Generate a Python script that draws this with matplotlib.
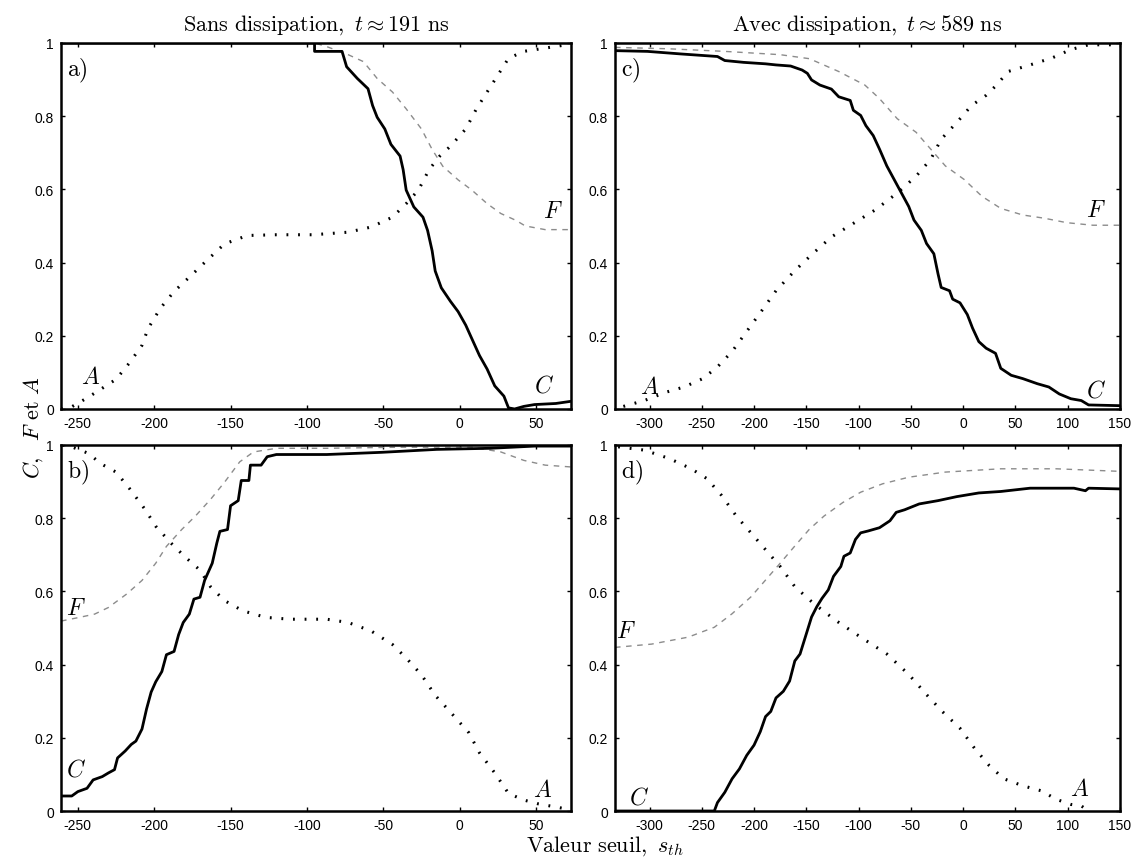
import matplotlib
matplotlib.use("Agg")
import matplotlib.pyplot as plt

plt.rcParams["mathtext.fontset"] = "cm"
plt.rcParams["font.family"] = "Liberation Sans"

# ---- panel a) sans dissipation, positif
a_c_x = [-261, -95, -95, -77, -74, -67, -60, -57, -54, -49, -45, -39, -37, -35, -30, -24, -21,
         -18, -16, -12, -6, -1, 4, 8, 13, 18, 23, 29, 32, 36, 42, 49, 63, 73]
a_c_y = [1.0, 1.0, 0.977, 0.977, 0.935, 0.903, 0.875, 0.829, 0.797, 0.765, 0.723, 0.691, 0.654,
         0.598, 0.552, 0.524, 0.488, 0.432, 0.377, 0.331, 0.294, 0.266, 0.229, 0.192, 0.146,
         0.109, 0.063, 0.035, 0.003, 0.0, 0.007, 0.012, 0.015, 0.021]
a_f_x = [-261, -95, -87, -73, -63, -54, -44, -35, -25, -18, -11, -1, 8, 18, 27, 37, 43, 56, 66, 73]
a_f_y = [1.0, 1.0, 0.99, 0.968, 0.949, 0.903, 0.866, 0.82, 0.765, 0.709, 0.663, 0.626, 0.598,
         0.561, 0.534, 0.515, 0.5, 0.49, 0.49, 0.49]
a_a_x = [-261, -254, -244, -235, -225, -216, -208, -204, -196, -187, -175, -166, -154, -139,
         -120, -96, -73, -58, -44, -35, -27, -20, -13, -6, 4, 11, 18, 25, 32, 42, 56, 73]
a_a_y = [0.0, 0.006, 0.03, 0.054, 0.081, 0.127, 0.174, 0.22, 0.275, 0.321, 0.368, 0.404, 0.451,
         0.474, 0.476, 0.476, 0.483, 0.497, 0.524, 0.561, 0.598, 0.654, 0.691, 0.718, 0.765,
         0.82, 0.866, 0.912, 0.958, 0.977, 0.986, 0.997]

# ---- panel b) sans dissipation, negatif
b_c_x = [-261, -254, -250, -244, -240, -234, -230, -226, -224, -219, -215, -212, -208, -205,
         -202, -199, -195, -192, -187, -184, -181, -177, -174, -170, -167, -162, -159, -157,
         -152, -150, -145, -143, -138, -137, -130, -126, -120, -87, -51, -15, 20, 49, 73]
b_c_y = [0.041, 0.041, 0.053, 0.062, 0.085, 0.094, 0.104, 0.113, 0.145, 0.164, 0.182, 0.191,
         0.224, 0.279, 0.325, 0.353, 0.381, 0.427, 0.436, 0.482, 0.515, 0.538, 0.579, 0.584,
         0.63, 0.677, 0.732, 0.764, 0.769, 0.834, 0.848, 0.903, 0.903, 0.945, 0.945, 0.968,
         0.974, 0.974, 0.98, 0.988, 0.991, 0.997, 0.997]
b_f_x = [-261, -249, -239, -230, -218, -208, -199, -192, -182, -173, -163, -154, -144, -135,
         -120, -87, -39, 8, 27, 42, 56, 73]
b_f_y = [0.519, 0.529, 0.538, 0.556, 0.593, 0.63, 0.677, 0.723, 0.769, 0.806, 0.852, 0.898,
         0.954, 0.981, 0.991, 0.991, 0.994, 0.994, 0.981, 0.958, 0.945, 0.94]
b_a_x = [-260, -254, -243, -235, -225, -216, -206, -199, -189, -180, -170, -163, -154, -142,
         -127, -111, -87, -73, -58, -44, -35, -25, -16, -6, 6, 13, 23, 32, 42, 51, 63, 73]
b_a_y = [1.0, 0.995, 0.977, 0.949, 0.926, 0.88, 0.824, 0.778, 0.732, 0.695, 0.658, 0.612,
         0.575, 0.547, 0.529, 0.524, 0.524, 0.515, 0.492, 0.455, 0.418, 0.372, 0.316, 0.27,
         0.214, 0.159, 0.104, 0.048, 0.03, 0.02, 0.011, 0.003]

# ---- panel c) avec dissipation, positif
c_c_x = [-333, -302, -270, -235, -228, -210, -189, -179, -165, -154, -149, -145, -137, -126,
         -119, -108, -105, -98, -93, -86, -80, -73, -66, -59, -52, -47, -40, -35, -28, -24,
         -21, -13, -10, -3, 4, 9, 15, 22, 31, 36, 46, 57, 71, 82, 92, 103, 113, 120, 150]
c_c_y = [0.979, 0.977, 0.97, 0.963, 0.952, 0.947, 0.943, 0.94, 0.937, 0.926, 0.917, 0.899,
         0.885, 0.874, 0.853, 0.843, 0.816, 0.802, 0.774, 0.747, 0.71, 0.664, 0.627, 0.59,
         0.553, 0.516, 0.488, 0.452, 0.424, 0.369, 0.332, 0.323, 0.3, 0.29, 0.258, 0.221,
         0.184, 0.166, 0.152, 0.111, 0.092, 0.083, 0.069, 0.06, 0.041, 0.028, 0.023, 0.011,
         0.009]
c_f_x = [-333, -281, -228, -175, -147, -119, -94, -80, -63, -45, -31, -17, 1, 18, 36, 57, 78,
         99, 124, 150]
c_f_y = [0.988, 0.984, 0.977, 0.968, 0.957, 0.922, 0.885, 0.848, 0.793, 0.756, 0.71, 0.664,
         0.627, 0.581, 0.548, 0.53, 0.521, 0.509, 0.502, 0.502]
c_a_x = [-325, -305, -284, -267, -249, -235, -221, -207, -193, -179, -161, -144, -126, -105,
         -84, -63, -45, -31, -21, -6, 8, 22, 32, 43, 64, 85, 103, 120, 150]
c_a_y = [0.007, 0.023, 0.046, 0.06, 0.083, 0.115, 0.157, 0.212, 0.267, 0.323, 0.378, 0.424,
         0.47, 0.507, 0.544, 0.59, 0.636, 0.682, 0.737, 0.783, 0.829, 0.857, 0.885, 0.922,
         0.94, 0.959, 0.982, 0.995, 0.995]

# ---- panel d) avec dissipation, negatif
d_c_x = [-333, -238, -235, -228, -221, -214, -207, -200, -194, -189, -184, -179, -172, -166,
         -161, -156, -150, -145, -140, -135, -129, -124, -117, -114, -108, -103, -98, -91,
         -80, -70, -64, -56, -42, -24, -6, 15, 36, 64, 106, 117, 120, 150]
d_c_y = [0.0, 0.0, 0.023, 0.051, 0.088, 0.115, 0.152, 0.18, 0.217, 0.258, 0.272, 0.309,
         0.327, 0.355, 0.41, 0.429, 0.484, 0.53, 0.558, 0.581, 0.604, 0.641, 0.668, 0.696,
         0.705, 0.742, 0.76, 0.765, 0.774, 0.793, 0.816, 0.823, 0.839, 0.848, 0.859, 0.869,
         0.873, 0.882, 0.882, 0.875, 0.882, 0.88]
d_f_x = [-333, -298, -263, -238, -221, -203, -189, -175, -161, -147, -133, -115, -98, -77,
         -52, -17, 36, 89, 150]
d_f_y = [0.447, 0.456, 0.475, 0.502, 0.539, 0.585, 0.631, 0.677, 0.724, 0.77, 0.806, 0.843,
         0.871, 0.894, 0.912, 0.926, 0.935, 0.935, 0.928]
d_a_x = [-330, -305, -281, -260, -245, -231, -217, -203, -189, -175, -161, -143, -122, -98,
         -73, -52, -35, -20, -3, 11, 25, 39, 57, 75, 89, 103, 113, 120]
d_a_y = [0.995, 0.986, 0.963, 0.935, 0.908, 0.862, 0.806, 0.76, 0.714, 0.668, 0.613, 0.567,
         0.521, 0.475, 0.429, 0.373, 0.318, 0.272, 0.226, 0.171, 0.124, 0.088, 0.069, 0.055,
         0.032, 0.018, 0.014, 0.0]

panels = [
    ("a", a_c_x, a_c_y, a_f_x, a_f_y, a_a_x, a_a_y, (-261, 73),
     {"A": (-242, 0.086), "F": (61, 0.54), "C": (55, 0.065)}),
    ("b", b_c_x, b_c_y, b_f_x, b_f_y, b_a_x, b_a_y, (-261, 73),
     {"F": (-251, 0.556), "C": (-251, 0.113), "A": (54, 0.057)}),
    ("c", c_c_x, c_c_y, c_f_x, c_f_y, c_a_x, c_a_y, (-333, 150),
     {"A": (-300, 0.06), "F": (127, 0.544), "C": (127, 0.05)}),
    ("d", d_c_x, d_c_y, d_f_x, d_f_y, d_a_x, d_a_y, (-333, 150),
     {"F": (-323, 0.493), "C": (-310, 0.037), "A": (111, 0.06)}),
]

left_ticks = [-250, -200, -150, -100, -50, 0, 50]
right_ticks = [-300, -250, -200, -150, -100, -50, 0, 50, 100, 150]
y_ticks = [0, 0.2, 0.4, 0.6, 0.8, 1]
y_labels = ["0", "0.2", "0.4", "0.6", "0.8", "1"]

fig = plt.figure(figsize=(11.37, 8.62), dpi=100)
rects = [
    [0.0537, 0.5244, 0.4486, 0.4246],
    [0.0537, 0.0580, 0.4486, 0.4246],
    [0.5409, 0.5244, 0.4441, 0.4246],
    [0.5409, 0.0580, 0.4441, 0.4246],
]

for rect, (lab, cx, cy, fx, fy, ax_, ay, xl, names) in zip(rects, panels):
    ax = fig.add_axes(rect)
    ticks = left_ticks if xl[0] > -300 else right_ticks
    ax.plot(fx, fy, color="#8c8c8c", lw=1.0, ls=(0, (4, 4)))
    ax.plot(ax_, ay, color="black", lw=2.2, ls=(0, (0.6, 3.2)))
    ax.plot(cx, cy, color="black", lw=2.0)
    ax.set_xlim(*xl)
    ax.set_ylim(0, 1)
    ax.set_xticks(ticks)
    ax.set_xticklabels([str(t) for t in ticks])
    ax.set_yticks(y_ticks)
    ax.set_yticklabels(y_labels)
    ax.tick_params(direction="in", length=3, width=1, top=True, right=True, labelsize=10,
                   pad=5)
    for s in ax.spines.values():
        s.set_linewidth(1.8)
    ax.text(0.012, 0.965, r"$\mathrm{%s)}$" % lab, transform=ax.transAxes, fontsize=17,
            va="top", ha="left")
    for k, (tx, ty) in names.items():
        ax.text(tx, ty, r"$%s$" % k, fontsize=17, ha="center", va="center")

fig.text(0.278, 0.971, r"$\mathrm{Sans\ dissipation,}\ t\approx 191\ \mathrm{ns}$",
         ha="center", va="center", fontsize=16)
fig.text(0.763, 0.971, r"$\mathrm{Avec\ dissipation,}\ t\approx 589\ \mathrm{ns}$",
         ha="center", va="center", fontsize=16)
fig.text(0.029, 0.5035, r"$C,\ \ F\ \mathrm{et}\ A$", rotation=90, ha="center",
         va="center", fontsize=16)
fig.text(0.532, 0.018, r"$\mathrm{Valeur\ seuil,}\ s_{th}$", ha="center", va="center",
         fontsize=16)

fig.savefig("out.png", dpi=100)
